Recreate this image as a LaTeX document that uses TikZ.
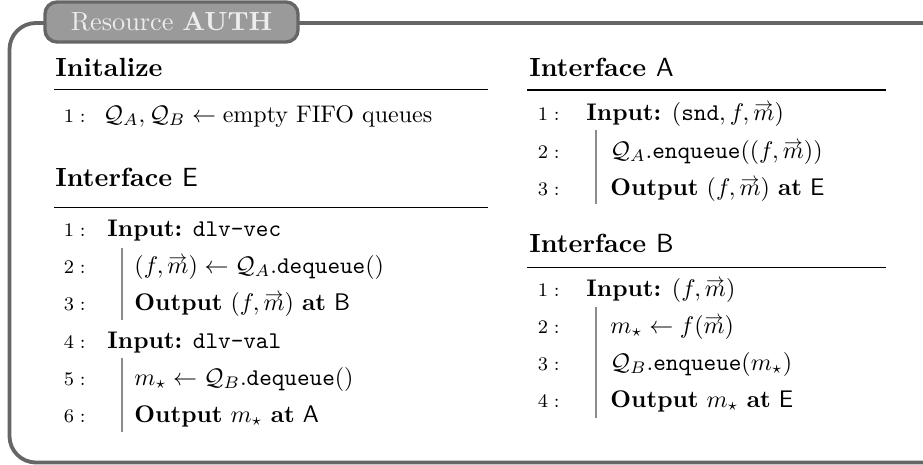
\documentclass[tikz,border=0pt]{standalone}
\usepackage{amsmath,amssymb}
\newcommand{\vm}{\mathord{\text{\ooalign{$m$\cr\hidewidth\raisebox{4.4pt}{$\scriptstyle\rightarrow$}\hidewidth\cr}}}}
\begin{document}
\begin{tikzpicture}[x=0.4167pt,y=-0.4167pt]
\definecolor{framegray}{HTML}{666666}
\definecolor{tabfill}{HTML}{9A9A9A}
\definecolor{bargray}{HTML}{8C8C8C}
\tikzset{
  lnum/.style={anchor=base east, inner sep=0pt, font=\footnotesize},
  txt/.style={anchor=base west, inner sep=0pt},
  hdr/.style={anchor=base west, inner sep=0pt, font=\fontsize{10.95}{13.6}\selectfont\bfseries},
  hrule/.style={line width=0.45pt},
  vbar/.style={bargray, line width=1.1pt},
  frame/.style={framegray, line width=1.6pt, rounded corners=11},
}
\useasboundingbox (0,0) rectangle (923,464);
% outer frame
\draw[frame] (940,23) -- (9.5,23) -- (9.5,462.5) -- (940,462.5);
% tab
\node[draw=framegray, fill=tabfill, line width=1.4pt, rounded corners=5, minimum width=253*0.4167pt, minimum height=40*0.4167pt, inner sep=0pt, text=white!93!black, font=\fontsize{10.95}{13.6}\selectfont] (tab) at (171.5,22) {Resource \textbf{AUTH}};

% Left column: Initialize
\node[hdr] (hI) at (55,76.7) {Initalize};
\coordinate (rIa) at (54,89.5); \coordinate (rIb) at (488,89.5);
\draw[hrule] (rIa) -- (rIb);
\node[lnum] (i1n) at (86,122) {$1:$};
\node[txt] (i1) at (103,122) {$\mathcal{Q}_A, \mathcal{Q}_B \gets \text{empty FIFO queues}$};

% Interface E
\node[hdr] (hE) at (55,186.7) {Interface $\mathsf{E}$};
\coordinate (rEa) at (54,207.5); \coordinate (rEb) at (488,207.5);
\draw[hrule] (rEa) -- (rEb);
\node[lnum] (e1n) at (86,236) {$1:$};
\node[txt]  (e1)  at (107,236) {\textbf{Input:} \texttt{dlv-vec}};
\node[lnum] (e2n) at (86,273) {$2:$};
\node[txt]  (e2)  at (134,273) {$(f,\vm) \gets \mathcal{Q}_A.\texttt{dequeue}()$};
\node[lnum] (e3n) at (86,310) {$3:$};
\node[txt]  (e3)  at (134,310) {\textbf{Output} $(f,\vm)$ \textbf{at} $\mathsf{B}$};
\node[lnum] (e4n) at (86,348) {$4:$};
\node[txt]  (e4)  at (107,348) {\textbf{Input:} \texttt{dlv-val}};
\node[lnum] (e5n) at (86,385) {$5:$};
\node[txt]  (e5)  at (134,385) {$m_\star \gets \mathcal{Q}_B.\texttt{dequeue}()$};
\node[lnum] (e6n) at (86,422) {$6:$};
\node[txt]  (e6)  at (134,422) {\textbf{Output} $m_\star$ \textbf{at} $\mathsf{A}$};
\coordinate (bE1a) at (122,248); \coordinate (bE1b) at (122,320);
\draw[vbar] (bE1a) -- (bE1b);
\coordinate (bE2a) at (122,358); \coordinate (bE2b) at (122,432);
\draw[vbar] (bE2a) -- (bE2b);

% Interface A
\node[hdr] (hA) at (529,76.7) {Interface $\mathsf{A}$};
\coordinate (rAa) at (527,90); \coordinate (rAb) at (886,90);
\draw[hrule] (rAa) -- (rAb);
\node[lnum] (a1n) at (560,120) {$1:$};
\node[txt]  (a1)  at (586,120) {\textbf{Input:} $(\texttt{snd}, f, \vm)$};
\node[lnum] (a2n) at (560,158) {$2:$};
\node[txt]  (a2)  at (610,158) {$\mathcal{Q}_A.\texttt{enqueue}((f,\vm))$};
\node[lnum] (a3n) at (560,195) {$3:$};
\node[txt]  (a3)  at (610,195) {\textbf{Output} $(f,\vm)$ \textbf{at} $\mathsf{E}$};
\coordinate (bAa) at (596,130); \coordinate (bAb) at (596,204);
\draw[vbar] (bAa) -- (bAb);

% Interface B
\node[hdr] (hB) at (529,252) {Interface $\mathsf{B}$};
\coordinate (rBa) at (527,267.7); \coordinate (rBb) at (886,267.7);
\draw[hrule] (rBa) -- (rBb);
\node[lnum] (b1n) at (560,296) {$1:$};
\node[txt]  (b1)  at (586,296) {\textbf{Input:} $(f, \vm)$};
\node[lnum] (b2n) at (560,333) {$2:$};
\node[txt]  (b2)  at (610,333) {$m_\star \gets f(\vm)$};
\node[lnum] (b3n) at (560,370) {$3:$};
\node[txt]  (b3)  at (610,370) {$\mathcal{Q}_B.\texttt{enqueue}(m_\star)$};
\node[lnum] (b4n) at (560,407) {$4:$};
\node[txt]  (b4)  at (610,407) {\textbf{Output} $m_\star$ \textbf{at} $\mathsf{E}$};
\coordinate (bBa) at (596,307); \coordinate (bBb) at (596,418);
\draw[vbar] (bBa) -- (bBb);
\end{tikzpicture}
\end{document}
